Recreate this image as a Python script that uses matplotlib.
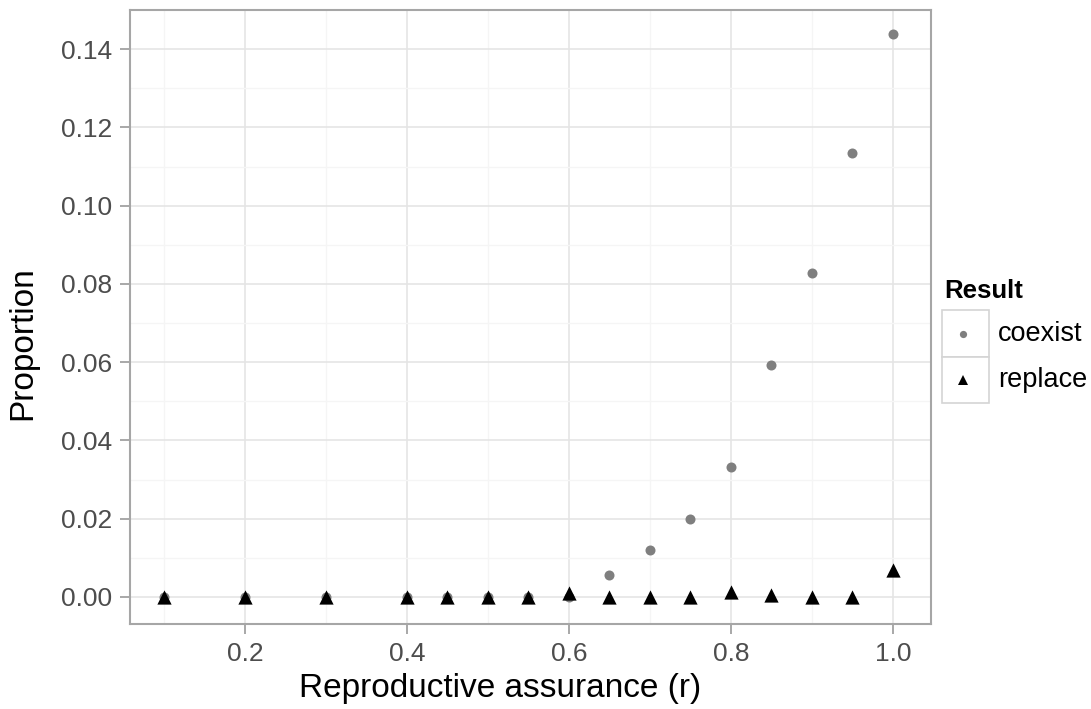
import matplotlib.pyplot as plt
from matplotlib.patches import Rectangle
from matplotlib.lines import Line2D

plt.rcParams['font.family'] = ['Liberation Sans', 'DejaVu Sans']

r = [0.1, 0.2, 0.3, 0.4, 0.45, 0.5, 0.55, 0.6, 0.65, 0.7, 0.75, 0.8, 0.85, 0.9, 0.95, 1.0]
coexist = [0, 0, 0, 0, 0, 0, 0, 0, 0.0056, 0.012, 0.020, 0.0332, 0.0593, 0.0828, 0.1135, 0.1439]
replace = [0, 0, 0, 0, 0, 0, 0, 0.0011, 0, 0, 0, 0.0014, 0.0004, 0, 0, 0.007]

W, H = 1091, 709
fig = plt.figure(figsize=(W / 100, H / 100), dpi=100)
ax = fig.add_axes([130 / W, 1 - 624 / H, 801 / W, 614 / H])

ax.scatter(r, coexist, s=52, color='#7f7f7f', marker='o', linewidths=0, zorder=3)
ax.scatter(r, replace, s=105, color='black', marker='^', linewidths=0, zorder=4)

ax.set_xlim(0.058, 1.047)
ax.set_ylim(-0.0069, 0.150)
ax.set_xticks([0.2, 0.4, 0.6, 0.8, 1.0])
ax.set_xticks([0.1, 0.3, 0.5, 0.7, 0.9], minor=True)
ax.set_yticks([0, 0.02, 0.04, 0.06, 0.08, 0.10, 0.12, 0.14])
ax.set_yticks([0.01, 0.03, 0.05, 0.07, 0.09, 0.11, 0.13], minor=True)
ax.set_xticklabels(['0.2', '0.4', '0.6', '0.8', '1.0'])
ax.set_yticklabels(['0.00', '0.02', '0.04', '0.06', '0.08', '0.10', '0.12', '0.14'])
ax.grid(which='major', color='#e5e5e5', linewidth=1.2)
ax.grid(which='minor', color='#f5f5f5', linewidth=1.0)
ax.set_axisbelow(True)
ax.tick_params(which='major', length=7, width=1.2, color='#999999', labelsize=19,
               labelcolor='#4d4d4d', pad=6)
ax.tick_params(which='minor', length=0)
for s in ax.spines.values():
    s.set_color('#a6a6a6')
    s.set_linewidth(1.5)

fig.text(500 / W, 1 - 689 / H, 'Reproductive assurance (r)', fontsize=24,
         ha='center', va='center')
fig.text(23 / W, 1 - 343 / H, 'Proportion', fontsize=24, rotation=90,
         ha='center', va='center')

# legend drawn by hand, ggplot style
fig.text(944 / W, 1 - 291 / H, 'Result', fontsize=18.5, fontweight='bold', va='center', ha='left')
keys = [('coexist', 'o', '#7f7f7f', 5.2), ('replace', '^', 'black', 7)]
for i, (lab, m, c, ms) in enumerate(keys):
    top = 310 + i * 46.5
    fig.patches.append(Rectangle((942 / W, 1 - (top + 46.5) / H), 47 / W, 46.5 / H,
                                 transform=fig.transFigure, facecolor='white',
                                 edgecolor='#d4d4d4', linewidth=1.2))
    yc = 1 - (top + 23.5) / H
    fig.lines.append(Line2D([963 / W], [yc], marker=m, color=c, markersize=ms,
                            markeredgewidth=0, transform=fig.transFigure))
    fig.text(998 / W, yc, lab, fontsize=19.5, va='center', ha='left', color='black')

fig.savefig('out.png', dpi=100)
